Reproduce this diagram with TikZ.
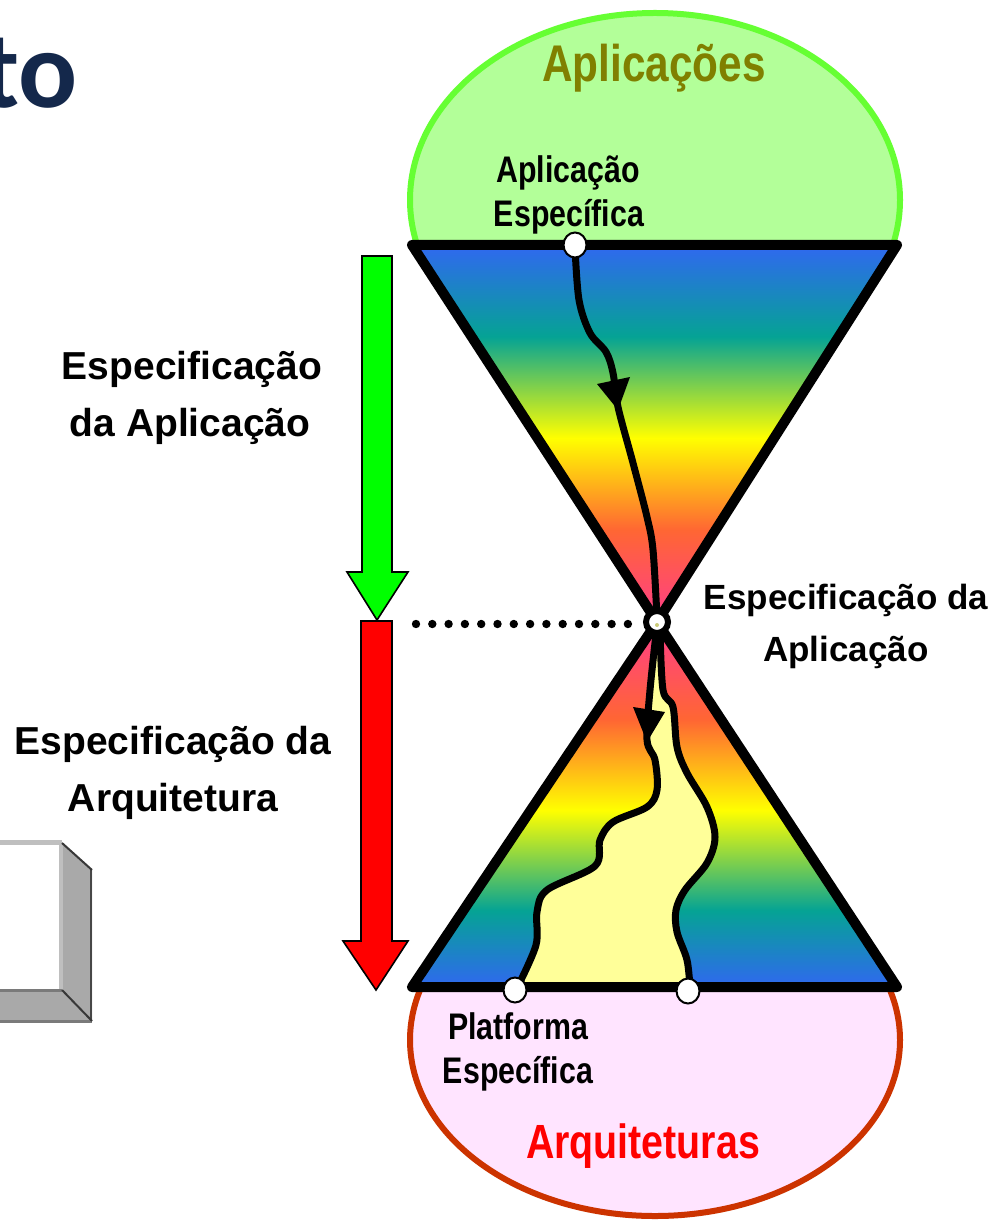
\documentclass[tikz,border=0pt]{standalone}
\usepackage{fontspec}
\newfontfamily\narf{Liberation Sans}[FakeStretch=0.82]
\newfontfamily\arf{Liberation Sans}
\newfontfamily\ttlf{Carlito}
\definecolor{appfill}{HTML}{B3FF99}
\definecolor{appline}{HTML}{66FF33}
\definecolor{archfill}{HTML}{FFE4FF}
\definecolor{archline}{HTML}{CC3300}
\definecolor{olivec}{HTML}{808000}
\definecolor{yelfill}{HTML}{FFFF99}
\definecolor{titlec}{HTML}{14284B}
\definecolor{shbl}{HTML}{3068F0}
\definecolor{shtl}{HTML}{05A394}
\definecolor{shyl}{HTML}{FFFF00}
\definecolor{shog}{HTML}{FF6633}
\definecolor{shpk}{HTML}{FF3D8A}
\definecolor{boxg}{HTML}{A9A9A9}
\pgfdeclareverticalshading{upsh}{100bp}{color(0bp)=(shpk); color(25bp)=(shpk); color(37.2bp)=(shog); color(49.4bp)=(shyl); color(62.8bp)=(shtl); color(75bp)=(shbl); color(100bp)=(shbl)}
\pgfdeclareverticalshading{losh}{100bp}{color(0bp)=(shbl); color(25bp)=(shbl); color(35.5bp)=(shtl); color(49.2bp)=(shyl); color(61.6bp)=(shog); color(75bp)=(shpk); color(100bp)=(shpk)}
\tikzset{
  tri/.style={draw=black, line width=5pt, line join=round},
  route/.style={draw=black, line width=3.5pt, line cap=round, line join=round},
  dotc/.style={ellipse, draw=black, fill=white, line width=1pt, minimum width=11.5pt, minimum height=12.5pt, inner sep=0pt},
  lbl/.style={inner sep=0pt, anchor=base},
  bigarrow/.style={draw=black, line width=0.8pt, line join=miter},
}
\usetikzlibrary{shapes.geometric}
\begin{document}
\begin{tikzpicture}[x=0.5pt,y=-0.5pt]
\useasboundingbox (0,0) rectangle (996,1224);
\fill[white] (0,0) rectangle (996,1224);

% title fragment
\node[lbl, anchor=base east, font=\ttlf\bfseries\fontsize{55}{60}\selectfont, text=titlec] (title) at (78,108) {to};

% geometry
\coordinate (apx) at (657,622);
\coordinate (pA) at (575,245);
\coordinate (pL) at (515,990);
\coordinate (pR) at (688,991);

% upper ellipse (Aplicacoes)
\begin{scope}
\clip (380,0) rectangle (930,245);
\draw[fill=appfill, draw=appline, line width=3pt] (655,200) ellipse [x radius=245, y radius=187];
\end{scope}
% lower ellipse (Arquiteturas)
\begin{scope}
\clip (380,987) rectangle (930,1224);
\draw[fill=archfill, draw=archline, line width=3pt] (655,1040) ellipse [x radius=245, y radius=176];
\end{scope}

% shaded triangles
\shade[shading=upsh] (412,245) -- (897,245) -- (apx) -- cycle;
\shade[shading=losh] (apx) -- (897,987) -- (412,987) -- cycle;

% yellow mapping region
\fill[yelfill] plot[smooth, tension=0.55] coordinates {(657,625) (650,690) (647,740) (655,760) (657,790) (647,807) (613,822) (600,840) (595,866) (547,890) (537,912) (536,945) (517,988)}
  -- plot[smooth, tension=0.55] coordinates {(690,988) (687,960) (677,932) (676,910) (685,890) (707,863) (715,837) (707,807) (687,773) (677,747) (673,707) (663,690) (660,630)} -- cycle;
\draw[route] plot[smooth, tension=0.55] coordinates {(657,625) (650,690) (647,740) (655,760) (657,790) (647,807) (613,822) (600,840) (595,866) (547,890) (537,912) (536,945) (517,988)};
\draw[route] plot[smooth, tension=0.55] coordinates {(690,988) (687,960) (677,932) (676,910) (685,890) (707,863) (715,837) (707,807) (687,773) (677,747) (673,707) (663,690) (660,630)};
\fill[black] (633,707) -- (665,712) -- (647,742) -- cycle;

% upper route
\draw[route] plot[smooth, tension=0.55] coordinates {(575,247) (579,300) (590,333) (606,352) (613,373) (618,407) (633,463) (647,517) (653,550) (657,618)};
\fill[black] (597,384) -- (630,377) -- (618,410) -- cycle;

% triangle outlines
\draw[tri] (412,245) -- (897,245) -- (apx) -- cycle;
\draw[tri] (apx) -- (897,987) -- (412,987) -- cycle;

% apex ring and dotted line
\coordinate (d0) at (416,624);
\node[circle, draw=black, fill=white, line width=3pt, minimum size=11pt, inner sep=0pt] (ring) at (apx) {};
\fill[yelfill!80!black] (657,625) circle [radius=2];
\draw[line width=4.2pt, line cap=round, dash pattern=on 0pt off 8.15pt] (d0) -- (630,624);

% endpoint circles
\node[dotc] (cA) at (pA) {};
\node[dotc] (cL) at (pL) {};
\node[dotc] (cR) at (pR) {};

% big arrows
\draw[bigarrow, fill=green] (362,256) -- (392,256) -- (392,572) -- (408,572) -- (377,620) -- (347,572) -- (362,572) -- cycle;
\draw[bigarrow, fill=red] (361,621) -- (392,621) -- (392,941) -- (408,941) -- (376,990) -- (343,941) -- (361,941) -- cycle;

% 3D box fragment
\fill[boxg] (62,843) -- (92,870) -- (92,1021) -- (62,990) -- cycle;
\fill[boxg] (-5,990) -- (62,990) -- (92,1021) -- (-5,1021) -- cycle;
\draw[color=black!25, line width=2.2pt] (-5,842.5) -- (62,842.5);
\draw[color=black!25, line width=2pt] (61,843) -- (61,990);
\draw[color=black!52, line width=1.5pt] (-5,990) -- (62,990);
\draw[color=black!52, line width=1.5pt] (-5,1021.5) -- (92,1021.5);
\draw[color=black!72, line width=1.2pt] (91,870) -- (91,1021);
\draw[color=black!78, line width=1pt] (62,843) -- (92,870);
\draw[color=black!78, line width=1pt] (62,990) -- (92,1021);

% labels
\node[lbl, font=\narf\bfseries\fontsize{25.8}{30}\selectfont, text=olivec] (tApl) at (654,82) {Aplicações};
\node[lbl, font=\narf\bfseries\fontsize{18.5}{22}\selectfont] (tAE1) at (568,183) {Aplicação};
\node[lbl, font=\narf\bfseries\fontsize{18.5}{22}\selectfont] (tAE2) at (569,227) {Específica};
\node[lbl, font=\narf\bfseries\fontsize{18.5}{22}\selectfont] (tPE1) at (518,1039) {Platforma};
\node[lbl, font=\narf\bfseries\fontsize{18.5}{22}\selectfont] (tPE2) at (518,1083) {Específica};
\node[lbl, font=\narf\bfseries\fontsize{24}{28}\selectfont, text=red] (tArq) at (643,1158) {Arquiteturas};

\node[lbl, font=\arf\bfseries\fontsize{19.5}{23}\selectfont] (tL1) at (192,380) {Especificação};
\node[lbl, font=\arf\bfseries\fontsize{19.5}{23}\selectfont] (tL2) at (190,437) {da Aplicação};
\node[lbl, font=\arf\bfseries\fontsize{19.5}{23}\selectfont] (tL3) at (173,754) {Especificação da};
\node[lbl, font=\arf\bfseries\fontsize{19.5}{23}\selectfont] (tL4) at (173,811) {Arquitetura};

\node[lbl, font=\arf\bfseries\fontsize{17.5}{21}\selectfont] (tR1) at (846,609) {Especificação da};
\node[lbl, font=\arf\bfseries\fontsize{17.5}{21}\selectfont] (tR2) at (846,661) {Aplicação};
\end{tikzpicture}
\end{document}
